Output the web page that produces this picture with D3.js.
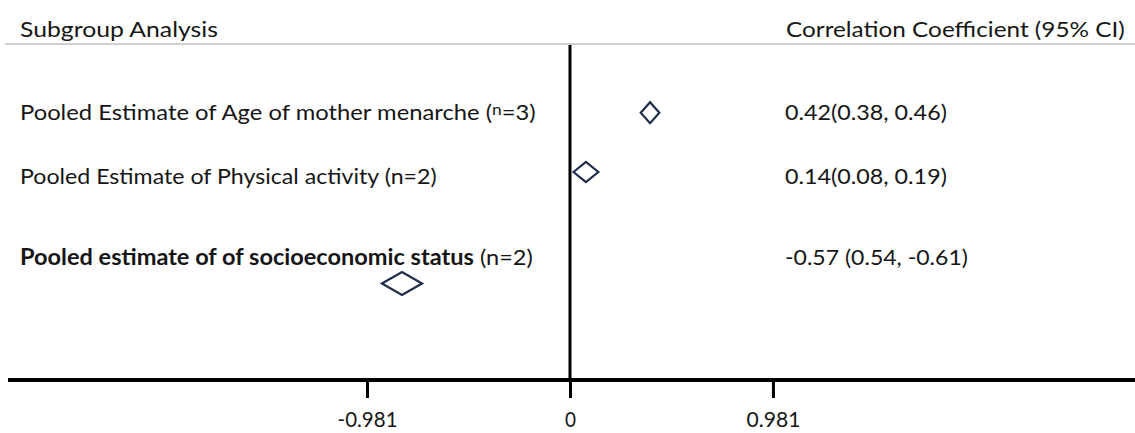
<!DOCTYPE html>
<html>
<head>
<meta charset="utf-8">
<script src="https://cdn.jsdelivr.net/npm/d3@7"></script>
<style>
  html, body { margin: 0; padding: 0; background: #fff; }
  svg { display: block; }
  text { font-family: Lato, "Open Sans", sans-serif; fill: #161616; }
</style>
</head>
<body>
<svg id="chart" width="1135" height="433"></svg>
<script>
// ---- data ----
const subgroups = [
  "Pooled Estimate of Age of mother menarche",
  "Pooled Estimate of Physical activity",
  "Pooled estimate of of socioeconomic status"
];
const sampleLabels = ["n=3", "n=2", "n=2"];
const ciLabels = ["0.42(0.38, 0.46)", "0.14(0.08, 0.19)", "-0.57 (0.54, -0.61)"];
const estimates = [0.387, 0.077, -0.812];
const lowerCI = [0.342, 0.017, -0.909];
const upperCI = [0.432, 0.137, -0.715];
const tickValues = [-0.981, 0, 0.981];
const tickLabels = ["-0.981", "0", "0.981"];
const headerLeft = "Subgroup Analysis";
const headerRight = "Correlation Coefficient (95% CI)";

// ---- layout (not data) ----
const W = 1135, H = 433;
const FS = 22;
const axisY = 380, headerLineY = 44;
const rowTextY = [120, 184, 265];
const diamondY = [112.7, 172, 283.5];
const diamondHalfH = [10.5, 10, 11.5];
const leftTargets = [516, 417, 513];
const ciTargets = [162, 162, 183];
const tickTargets = [60, 11, 54];

const svg = d3.select("#chart");
const x = d3.scaleLinear().domain([-2.755, 2.731]).range([0, W]);

// squeeze a text element horizontally to a target width, anchored at x0
function fit(sel, x0, target) {
  const w = sel.node().getComputedTextLength();
  const sx = target / w;
  sel.attr("transform", `translate(${x0},0) scale(${sx},1) translate(${-x0},0)`);
  return sel;
}

// header
fit(svg.append("text").attr("x", 20).attr("y", 37).attr("font-size", FS).text(headerLeft), 20, 198);
fit(svg.append("text").attr("x", 786).attr("y", 37).attr("font-size", FS).text(headerRight), 786, 339);
svg.append("line").attr("x1", 5).attr("x2", W).attr("y1", headerLineY).attr("y2", headerLineY)
  .attr("stroke", "#cfcfcf").attr("stroke-width", 2);

const rows = subgroups.map((s, i) => ({ s, n: sampleLabels[i], ci: ciLabels[i], est: estimates[i], lo: lowerCI[i], hi: upperCI[i], i }));

// row labels
const t1 = svg.append("text").attr("x", 20).attr("y", rowTextY[0]).attr("font-size", FS);
t1.append("tspan").text(rows[0].s + " (");
t1.append("tspan").attr("font-size", 16).attr("dy", -5).text(rows[0].n.split("=")[0]);
t1.append("tspan").attr("dy", 5).text("=" + rows[0].n.split("=")[1] + ")");
fit(t1, 20, leftTargets[0]);

const t2 = svg.append("text").attr("x", 20).attr("y", rowTextY[1]).attr("font-size", FS)
  .text(rows[1].s + " (" + rows[1].n + ")");
fit(t2, 20, leftTargets[1]);

const t3 = svg.append("text").attr("x", 20).attr("y", rowTextY[2]).attr("font-size", FS);
t3.append("tspan").attr("font-weight", "bold").text(rows[2].s);
t3.append("tspan").text(" (" + rows[2].n + ")");
fit(t3, 20, leftTargets[2]);

// CI labels
svg.selectAll("text.ci").data(rows).enter().append("text")
  .attr("class", "ci").attr("x", 785).attr("y", d => rowTextY[d.i]).attr("font-size", FS)
  .text(d => d.ci)
  .each(function(d) { fit(d3.select(this), 785, ciTargets[d.i]); });

// diamonds
svg.selectAll("path.diamond").data(rows).enter().append("path")
  .attr("class", "diamond")
  .attr("d", d => {
    const cy = diamondY[d.i], hh = diamondHalfH[d.i];
    return `M${x(d.lo)},${cy} L${x(d.est)},${cy - hh} L${x(d.hi)},${cy} L${x(d.est)},${cy + hh} Z`;
  })
  .attr("fill", "none").attr("stroke", "#1f2d4a").attr("stroke-width", 2.2)
  .attr("stroke-linejoin", "miter");

// vertical zero line
svg.append("line").attr("x1", x(0)).attr("x2", x(0)).attr("y1", 45).attr("y2", axisY)
  .attr("stroke", "#000").attr("stroke-width", 3);

// x axis
const axis = d3.axisBottom(x).tickValues(tickValues).tickFormat((d, i) => tickLabels[i])
  .tickSize(18).tickPadding(14);
const gAxis = svg.append("g").attr("transform", `translate(0,${axisY})`).call(axis);
gAxis.select(".domain").remove();
gAxis.selectAll(".tick line").attr("stroke", "#000").attr("stroke-width", 3);
gAxis.selectAll(".tick text").attr("font-size", 21).attr("fill", "#161616")
  .attr("font-family", "Lato, 'Open Sans', sans-serif")
  .attr("dy", "0.71em")
  .each(function(d, i) {
    const w = this.getComputedTextLength();
    d3.select(this).attr("transform", `scale(${tickTargets[i] / w},1)`);
  });
svg.append("line").attr("x1", 8).attr("x2", W).attr("y1", axisY).attr("y2", axisY)
  .attr("stroke", "#000").attr("stroke-width", 4);
</script>
</body>
</html>
